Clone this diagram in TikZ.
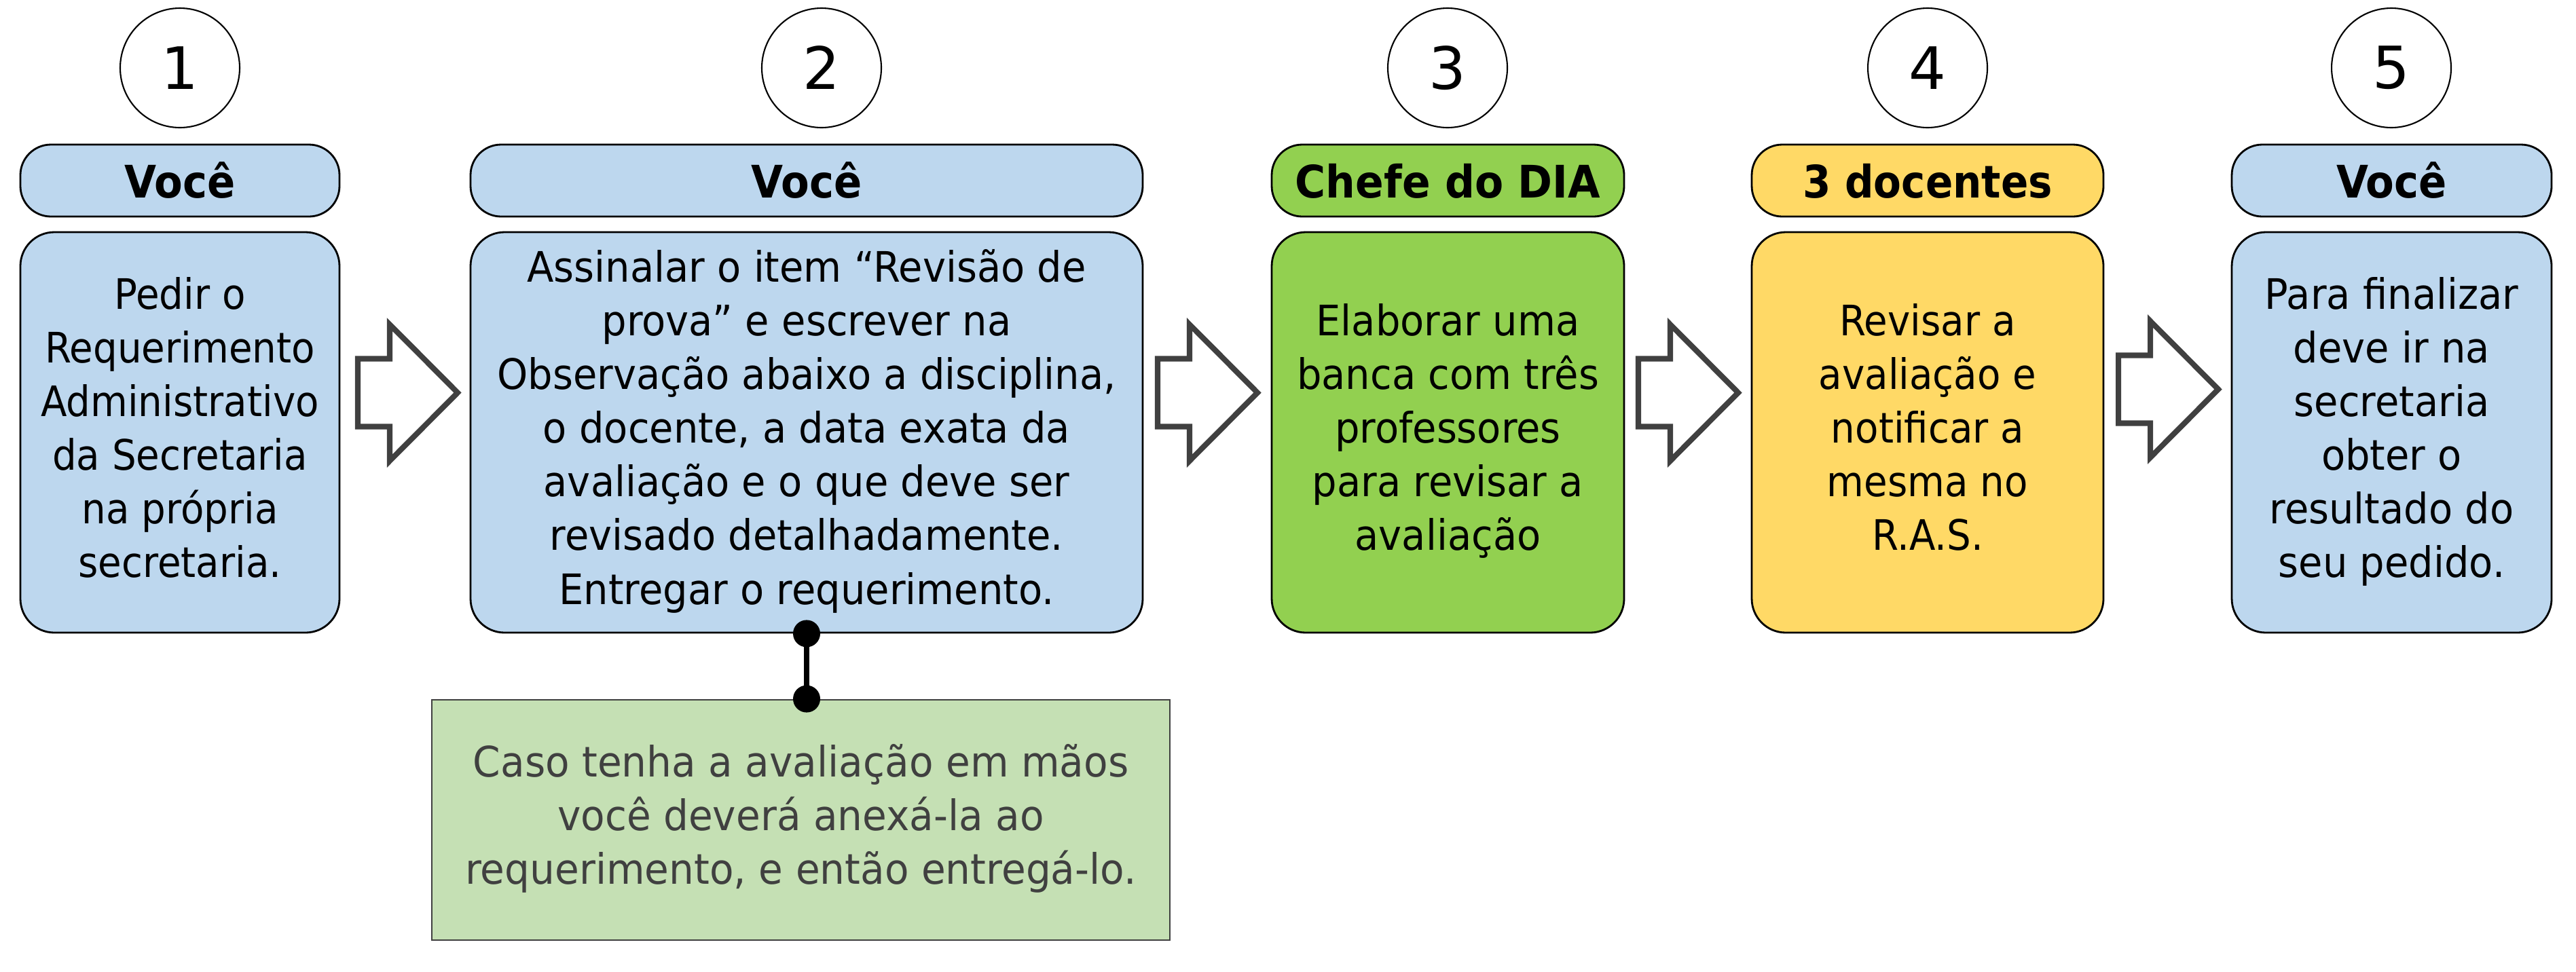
\documentclass[tikz,border=0pt]{standalone}
\usepackage{fontspec}
\setmainfont{DejaVu Sans}
\definecolor{cblue}{HTML}{BDD7EE}
\definecolor{cgreen}{HTML}{92D050}
\definecolor{cyellow}{HTML}{FFD966}
\definecolor{cnote}{HTML}{C5E0B4}
\definecolor{cgray}{HTML}{404040}
\newcommand\bodyfont{\fontsize{17.6}{22.5}\selectfont}
\newcommand\headfont{\fontsize{18.8}{22}\selectfont\bfseries}
\newcommand\sqz[2]{\scalebox{#1}[1]{\begin{tabular}{@{}c@{}}#2\end{tabular}}}
\newcommand\blockarrow[1]{%
  \draw[flow] ([yshift=0.50cm]#1) -- ++(0.47,0) -- ++(0,0.505) -- ++(1.00,-1.005)
    -- ++(-1.00,-1.005) -- ++(0,0.505) -- ++(-0.47,0) -- cycle;}
\tikzset{
  hdr/.style={draw=black, line width=0.8pt, rounded corners=0.45cm, minimum height=1.06cm,
    inner sep=0pt, text height=0.5cm, text depth=0pt, font=\headfont},
  bodybox/.style={draw=black, line width=0.8pt, rounded corners=0.5cm, minimum height=5.90cm,
    inner sep=0pt, font=\bodyfont},
  num/.style={circle, draw=black, line width=0.6pt, fill=white, minimum size=1.76cm,
    inner sep=0pt, font=\fontsize{24.5}{28}\selectfont},
  flow/.style={draw=cgray, line width=2.3pt, fill=white, line join=miter},
  note/.style={draw=cgray, line width=0.8pt, fill=cnote, minimum width=10.87cm,
    minimum height=3.54cm, text=cgray, font=\bodyfont, inner sep=0pt},
  dotline/.style={line width=2.3pt},
  dot/.style={circle, fill=black, inner sep=0pt, minimum size=0.40cm},
}
\begin{document}
\begin{tikzpicture}
\useasboundingbox (0,0) rectangle (37.94,-14.31);
% step circles
\node[num] (c1) at (2.65,-1.00) {1};
\node[num] (c2) at (12.10,-1.00) {2};
\node[num] (c3) at (21.32,-1.00) {3};
\node[num] (c4) at (28.39,-1.00) {4};
\node[num] (c5) at (35.22,-1.00) {5};
% headers
\node[hdr, fill=cblue, minimum width=4.70cm] (h1) at (2.65,-2.66) {\scalebox{0.92}[1]{Você}};
\node[hdr, fill=cblue, minimum width=9.90cm] (h2) at (11.88,-2.66) {\scalebox{0.92}[1]{Você}};
\node[hdr, fill=cgreen, minimum width=5.19cm] (h3) at (21.325,-2.66) {\scalebox{0.93}[1]{Chefe do DIA}};
\node[hdr, fill=cyellow, minimum width=5.18cm] (h4) at (28.39,-2.66) {\scalebox{0.90}[1]{3 docentes}};
\node[hdr, fill=cblue, minimum width=4.71cm] (h5) at (35.225,-2.66) {\scalebox{0.92}[1]{Você}};
% bodies
\node[bodybox, fill=cblue, minimum width=4.70cm] (b1) at (2.65,-6.37)
  {\sqz{0.91}{Pedir o\\Requerimento\\Administrativo\\da Secretaria\\na própria\\secretaria.}};
\node[bodybox, fill=cblue, minimum width=9.90cm] (b2) at (11.88,-6.37)
  {\sqz{0.93}{Assinalar o item “Revisão de\\prova” e escrever na\\Observação abaixo a disciplina,\\o docente, a data exata da\\avaliação e o que deve ser\\revisado detalhadamente.\\Entregar o requerimento.}};
\node[bodybox, fill=cgreen, minimum width=5.19cm] (b3) at (21.325,-6.37)
  {\sqz{0.93}{Elaborar uma\\banca com três\\professores\\para revisar a\\avaliação}};
\node[bodybox, fill=cyellow, minimum width=5.18cm] (b4) at (28.39,-6.37)
  {\sqz{0.91}{Revisar a\\avaliação e\\notificar a\\mesma no\\R.A.S.}};
\node[bodybox, fill=cblue, minimum width=4.71cm] (b5) at (35.225,-6.37)
  {\sqz{0.93}{Para finalizar\\deve ir na\\secretaria\\obter o\\resultado do\\seu pedido.}};
% block arrows (tail midpoints)
\coordinate (t1) at (5.27,-5.785);
\coordinate (t2) at (17.05,-5.785);
\coordinate (t3) at (24.13,-5.785);
\coordinate (t4) at (31.20,-5.735);
\blockarrow{t1}
\blockarrow{t2}
\blockarrow{t3}
\blockarrow{t4}
% note
\node[note] (nt) at (11.795,-12.08)
  {\sqz{0.94}{Caso tenha a avaliação em mãos\\você deverá anexá-la ao\\requerimento, e então entregá-lo.}};
\node[dot] (d1) at (b2.south) {};
\node[dot] (d2) at (b2.south |- nt.north) {};
\draw[dotline] (d1.center) -- (d2.center);
\end{tikzpicture}
\end{document}
